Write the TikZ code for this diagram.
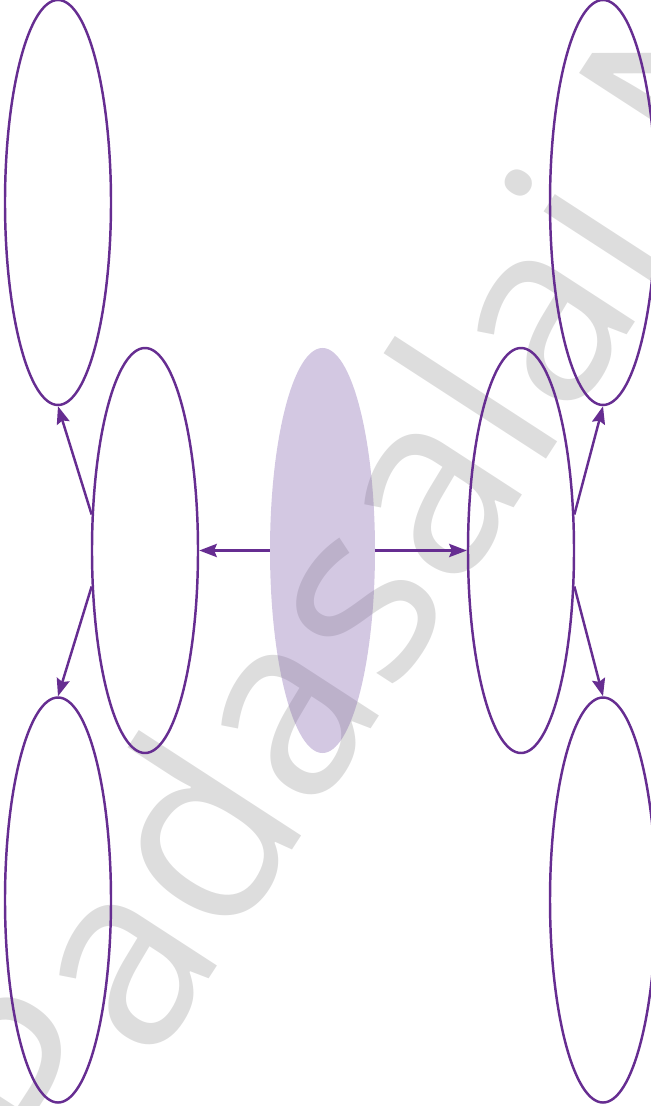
\documentclass[tikz,border=0pt]{standalone}
\usepackage{fontspec}
\usepackage{xcolor}
\usepackage{tikz}
\usetikzlibrary{shapes.geometric,arrows.meta}

\newfontfamily\wmfont{Open Sans}
\definecolor{linepurple}{HTML}{662D91}
\definecolor{fillpurple}{HTML}{7755A5}
\definecolor{wmgray}{HTML}{DDDDDD}

\tikzset{
  oval/.style={ellipse, draw=linepurple, line width=1.4pt, minimum width=2.12cm, minimum height=8.1cm, inner sep=0pt},
  flux/.style={-{Stealth[length=10pt,width=7.5pt,inset=1.5pt]}, draw=linepurple, line width=1.4pt}
}

\begin{document}
\begin{tikzpicture}[x=0.2mm, y=-0.2mm]
\path[use as bounding box, clip] (0,0) rectangle (651,1106);

% Watermark
\node[text=wmgray, font=\wmfont\fontsize{145}{145}\selectfont, rotate=57, anchor=base west, inner sep=0pt] (wm) at (534,478) {\llap{Padasa}lai.Net};

% Shaded source ellipse
\node[ellipse, fill=fillpurple, fill opacity=0.32, minimum width=2.1cm, minimum height=8.1cm, inner sep=0pt] (src) at (322.5,550.5) {};

% Middle column
\node[oval] (ml) at (145,550.5) {};
\node[oval] (mr) at (521,550.5) {};

% Outer columns
\node[oval] (tl) at (58,202.5) {};
\node[oval] (bl) at (58,900) {};
\node[oval] (tr) at (603,202.5) {};
\node[oval] (br) at (603,900) {};

% Arrows
\draw[flux] (src.west) -- (ml.east);
\draw[flux] (src.east) -- (mr.west);
\draw[flux] (ml.146) -- (tl.south);
\draw[flux] (ml.214) -- (bl.north);
\draw[flux] (mr.34) -- (tr.south);
\draw[flux] (mr.-34) -- (br.north);

\end{tikzpicture}
\end{document}
